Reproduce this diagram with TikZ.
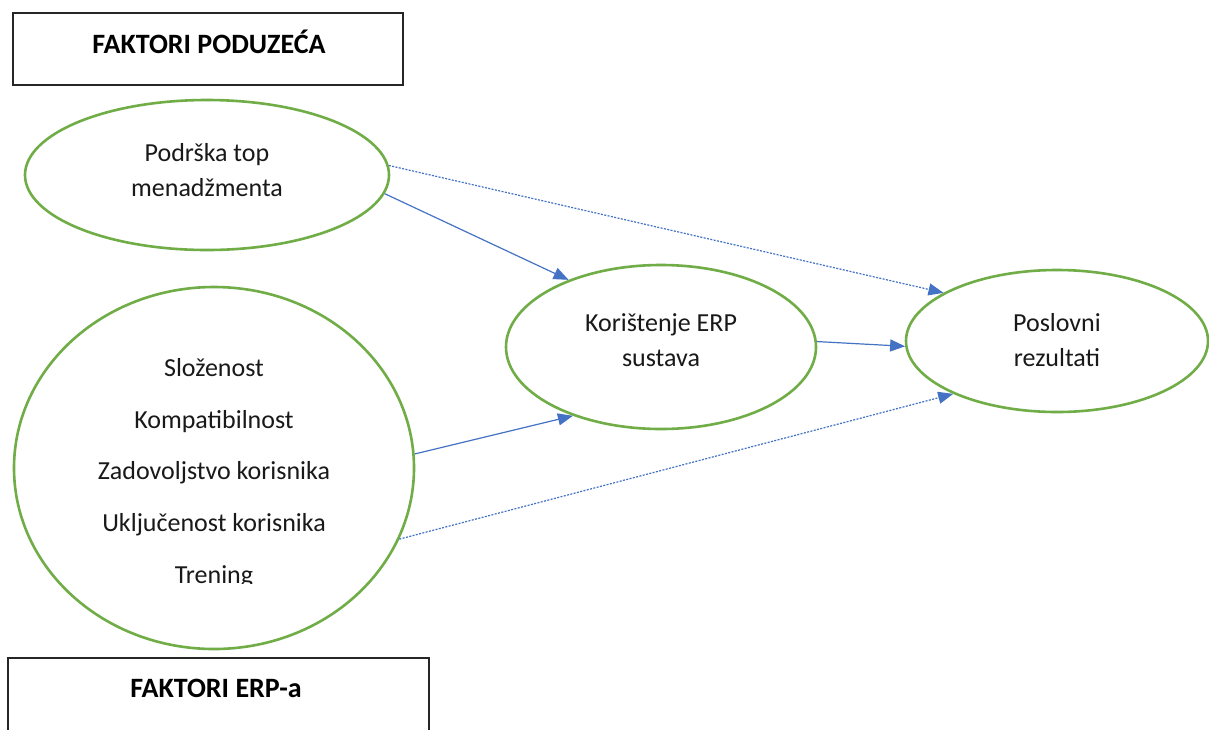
\documentclass[tikz,border=0pt]{standalone}
\usepackage{fontspec}
\setmainfont{Carlito}
\usetikzlibrary{shapes.geometric,arrows.meta}
\definecolor{ovalgreen}{HTML}{70AD47}
\definecolor{arrowblue}{HTML}{4472C4}
\begin{document}
\begin{tikzpicture}[x=1pt,y=-1pt,
  oval/.style={draw=ovalgreen,line width=2.6pt,ellipse,inner sep=0pt,fill=white},
  framebox/.style={draw=black!85,line width=1.2pt,rectangle,inner sep=0pt},
  body/.style={font=\fontsize{26}{35}\selectfont,align=center,text=black!90},
  title/.style={font=\fontsize{28}{32}\selectfont\bfseries,text=black},
  link/.style={draw=arrowblue,line width=1.2pt,-{Triangle[length=15pt,width=12pt]}},
  dotlink/.style={link,dash pattern=on 2pt off 1.4pt}]
\useasboundingbox (0,0) rectangle (1209,729);
\fill[white] (0,0) rectangle (1209,729);
% boxes
\node[framebox,minimum width=390pt,minimum height=72pt] (boxtop) at (208,49) {};
\node[title] (titletop) at (209,42) {FAKTORI PODUZEĆA};
\begin{scope}
\clip (0,0) rectangle (1209,729);
\node[framebox,minimum width=421pt,minimum height=100pt] (boxbot) at (218.5,708) {};
\end{scope}
\node[title] (titlebot) at (216,688) {FAKTORI ERP-a};
% ellipses
\node[oval,minimum width=364pt,minimum height=150pt] (e1) at (207,175) {};
\node[oval,minimum width=400pt,minimum height=362pt] (e2) at (214,468) {};
\node[oval,minimum width=310pt,minimum height=164pt] (e3) at (661,347) {};
\node[oval,minimum width=302pt,minimum height=142pt] (e4) at (1057,341) {};
% texts
\node[body] (t1) at (207,170) {Podrška top\\menadžmenta};
\node[body] (t3) at (661,340) {Korištenje ERP\\sustava};
\node[body] (t4) at (1057,340) {Poslovni\\rezultati};
\begin{scope}
\clip (0,280) rectangle (430,583);
\node[body,font=\fontsize{26}{51.8}\selectfont] (t2) at (214,473) {Složenost\\Kompatibilnost\\Zadovoljstvo korisnika\\Uključenost korisnika\\Trening};
\end{scope}
% connectors
\draw[link] (e1.-6.3) -- (e3.144.9);
\draw[dotlink] (e1.3.8) -- (e4.157.7);
\draw[link] (e3.2.6) -- (e4.182.6);
\draw[link] (e2.4.6) -- (e3.218.1);
\draw[dotlink] (e2.-21.4) -- (e4.207);
\end{tikzpicture}
\end{document}
